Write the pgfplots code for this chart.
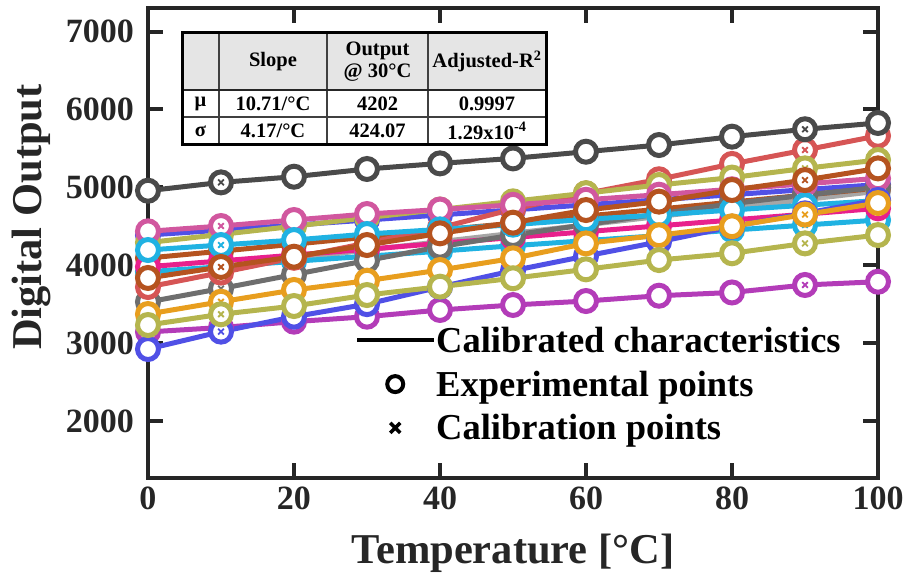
\documentclass[border=0pt]{standalone}
\usepackage{fontspec}
\setmainfont{Liberation Serif}
\usepackage{pgfplots}
\usepackage{pgfplotstable}
\pgfplotsset{compat=1.18}

\definecolor{cdgray}{HTML}{4A4A4A}
\definecolor{cpink}{HTML}{D1579F}
\definecolor{cblue}{HTML}{5050E6}
\definecolor{colive}{HTML}{B5B54E}
\definecolor{ccyan}{HTML}{20B2E2}
\definecolor{cbrown}{HTML}{B5531F}
\definecolor{cmag}{HTML}{E8208C}
\definecolor{cred}{HTML}{D65555}
\definecolor{cgray}{HTML}{6E6E6E}
\definecolor{clgray}{HTML}{A6A6A6}
\definecolor{corange}{HTML}{E89E1E}
\definecolor{cpurple}{HTML}{B33CB8}
\definecolor{frame}{HTML}{262626}

% temperature vs digital output of each sensor
\pgfplotstableread{
T   s1   s2   s3   s4   s5   s6   s7   s8   s9   s10  s11  s12  s13  s14  s15  s16
0   4956 4435 4387 4290 4195 4092 3980 3836 3720 3916 3528 3870 3373 3232 3143 2924
10  5063 4503 4450 4395 4259 4180 4055 3977 3905 3980 3700 3978 3531 3370 3200 3147
20  5136 4580 4515 4500 4323 4270 4130 4109 4095 4050 3880 4086 3682 3476 3275 3339
30  5235 4657 4580 4610 4400 4360 4205 4259 4285 4115 4060 4194 3801 3617 3339 3500
40  5307 4715 4645 4715 4460 4450 4280 4409 4480 4180 4237 4302 3938 3724 3425 3720
50  5371 4775 4710 4820 4520 4540 4355 4546 4720 4250 4387 4410 4088 3832 3489 3930
60  5457 4840 4775 4925 4589 4630 4430 4708 4921 4315 4520 4518 4280 3947 3540 4118
70  5543 4905 4840 5030 4644 4720 4505 4816 5103 4380 4660 4626 4385 4066 3608 4300
80  5650 4975 4905 5125 4709 4810 4580 4965 5300 4450 4790 4734 4500 4153 3650 4495
90  5745 5045 4970 5243 4770 4900 4655 5093 5479 4515 4900 4842 4650 4280 3746 4666
100 5826 5115 5035 5351 4830 4990 4730 5243 5661 4580 5000 4950 4798 4387 3788 4837
}\data

\newcommand{\series}[2]{%
  \addplot[color=#1, line width=5pt, mark=*, mark size=10.5pt,
    mark options={solid, fill=white, line width=5pt}, forget plot]
    table[x=T, y=#2] {\data};
  \addplot[color=#1, only marks, mark=x, mark size=4pt, mark indices={2,10},
    mark options={line width=1.8pt}, forget plot]
    table[x=T, y=#2] {\data};
}

\begin{document}
\begin{tikzpicture}
\begin{axis}[
  scale only axis,
  width=730pt, height=470pt,
  xmin=0, xmax=100, ymin=1268, ymax=7302,
  xtick={0,20,...,100}, ytick={2000,3000,...,7000},
  tick pos=both, xticklabel pos=lower, yticklabel pos=left,
  tick align=inside, major tick length=15pt,
  every tick/.style={line width=4pt, frame},
  axis line style={line width=4pt, frame},
  scaled ticks=false,
  /pgf/number format/1000 sep={},
  /pgf/number format/assume math mode=true,
  tick label style={font=\fontsize{34}{34}\selectfont\bfseries, text=frame},
  yticklabel style={anchor=east, inner sep=0pt, xshift=-14pt},
  xticklabel style={anchor=north, inner sep=0pt, yshift=-9pt},
  xlabel={Temperature [°C]},
  ylabel={Digital Output},
  label style={font=\fontsize{42.5}{42.5}\selectfont\bfseries, text=frame},
  xlabel style={at={(axis description cs:0.5,-0.16)}, anchor=center},
  ylabel style={at={(axis description cs:-0.16,0.555)}, anchor=center},
  clip=false,
  legend cell align=left,
  legend style={at={(axis description cs:0.2836,0.322)}, anchor=north west,
    draw=none, fill=none, inner sep=0pt, row sep=17pt,
    font=\fontsize{36.5}{36.5}\selectfont\bfseries,
    nodes={inner sep=0pt},
    /tikz/every even column/.append style={column sep=3pt}},
]
\series{clgray}{s12}
\series{ccyan}{s10}
\series{cblue}{s3}
\series{cbrown}{s6}
\series{cmag}{s7}
\series{cpurple}{s15}
\series{cgray}{s11}
\series{cred}{s9}
\series{colive}{s4}
\series{cpink}{s2}
\series{ccyan}{s5}
\series{cblue}{s16}
\series{corange}{s13}
\series{colive}{s14}
\series{cbrown}{s8}
\series{cdgray}{s1}

\addlegendimage{legend image code/.code={\draw[black, line width=4pt] (0pt,0pt) -- (77pt,0pt);}}
\addlegendentry{Calibrated characteristics}
\addlegendimage{legend image code/.code={\draw[black, line width=4pt, fill=white] (38pt,0pt) circle (8pt);}}
\addlegendentry{Experimental points}
\addlegendimage{legend image code/.code={\draw[black, line width=3.5pt] (33pt,-5pt) -- (43pt,5pt) (33pt,5pt) -- (43pt,-5pt);}}
\addlegendentry{Calibration points}
\end{axis}

% summary table
\begin{scope}[x=1pt, y=1pt, font=\fontsize{20.5}{22.5}\selectfont\bfseries]
  \fill[black!10] (34,388) rectangle (398,445);
  \fill[white] (34,333) rectangle (398,388);
  \draw[black!75, line width=1.5pt] (71,333) -- (71,445) (179,333) -- (179,445)
    (280,333) -- (280,445) (34,361) -- (398,361);
  \draw[black!85, line width=2pt] (34,388) -- (398,388);
  \draw[black, line width=3pt] (34,333) rectangle (398,445);
  \node at (125,416.5) {Slope};
  \node[align=center] at (229.5,416.5) {Output\\@ 30°C};
  \node at (339,416.5) {Adjusted-R\textsuperscript{2}};
  \node at (52.5,374.5) {μ};
  \node at (52.5,347) {σ};
  \node at (125,374.5) {10.71/°C};
  \node at (229.5,374.5) {4202};
  \node at (339,374.5) {0.9997};
  \node at (125,347) {4.17/°C};
  \node at (229.5,347) {424.07};
  \node at (339,347) {1.29x10\textsuperscript{-4}};
  \path (-148,-105) rectangle (759,478);
\end{scope}
\end{tikzpicture}
\end{document}
